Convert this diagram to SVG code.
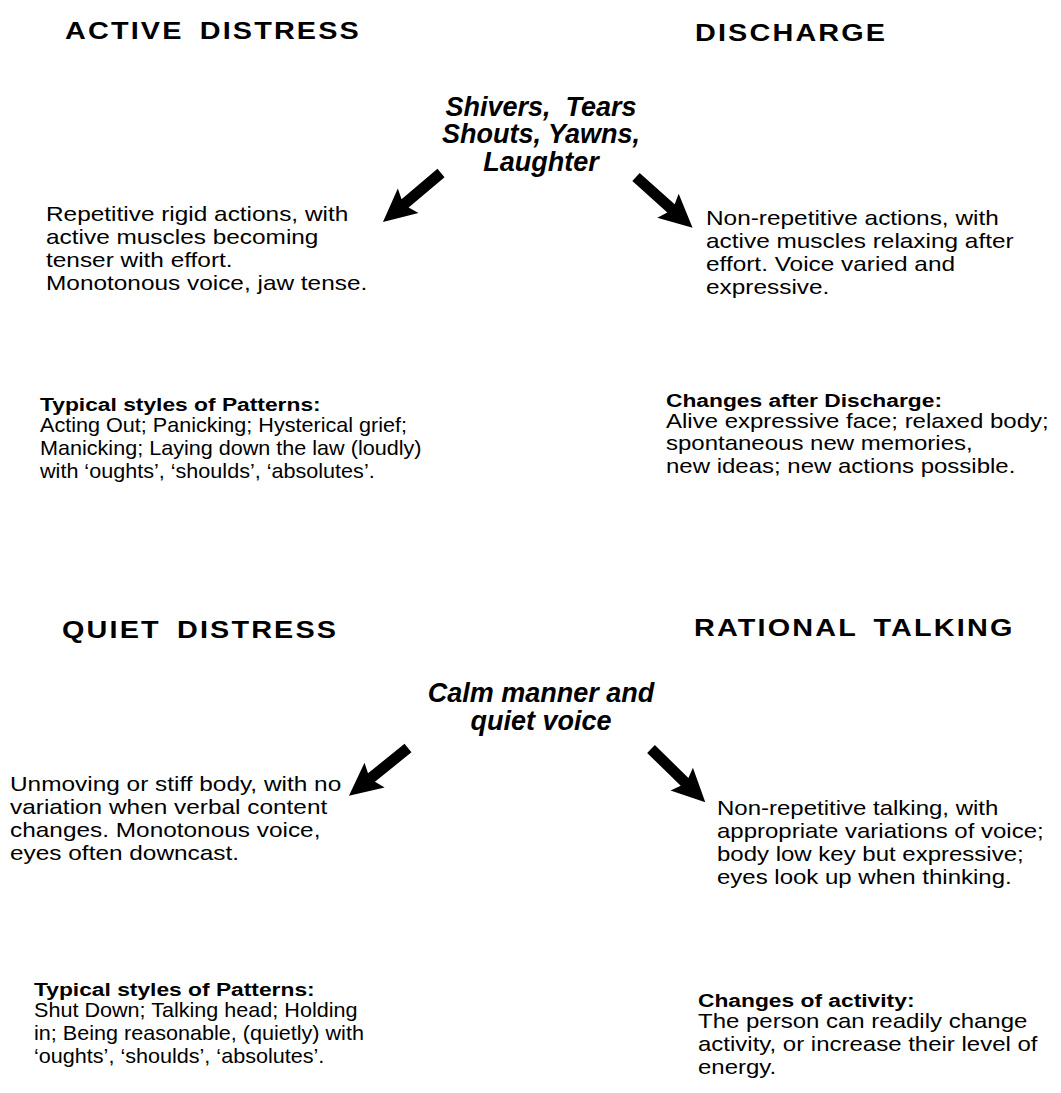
<svg xmlns="http://www.w3.org/2000/svg" xmlns:xlink="http://www.w3.org/1999/xlink" width="1061" height="1093" viewBox="0 0 1061 1093">
<style>
text{font-family:"Liberation Sans",Arial,Helvetica,sans-serif;fill:#000}
.title{font-size:24px;font-weight:bold;letter-spacing:1.8px;word-spacing:5px}
.cue{font-size:27px;font-weight:bold;font-style:italic;text-anchor:middle}
.body{font-size:20px}
.sub{font-size:19px;font-weight:bold}
</style>
<defs>
<polygon id="arrow" points="0,-5.5 47,-5.5 43,-16 76,0 43,16 47,5.5 0,5.5" fill="#000"/>
</defs>
<rect width="1061" height="1093" fill="#fff"/>

<g id="active-distress-title" transform="translate(65,0) scale(1.2,1)"><text class="title" x="0" y="39">ACTIVE DISTRESS</text></g>
<g id="discharge-title" transform="translate(695,0) scale(1.2,1)"><text class="title" x="0" y="41">DISCHARGE</text></g>

<g id="discharge-cues">
<text class="cue" x="541" y="116" xml:space="preserve">Shivers,  Tears</text>
<text class="cue" x="541" y="143">Shouts, Yawns,</text>
<text class="cue" x="541" y="171">Laughter</text>
</g>

<g id="active-distress-signs" transform="translate(46,0) scale(1.22,1)">
<text class="body" x="0" y="221">Repetitive rigid actions, with</text>
<text class="body" x="0" y="244">active muscles becoming</text>
<text class="body" x="0" y="267">tenser with effort.</text>
<text class="body" x="0" y="290">Monotonous voice, jaw tense.</text>
</g>

<g id="discharge-signs" transform="translate(706,0) scale(1.22,1)">
<text class="body" x="0" y="225">Non-repetitive actions, with</text>
<text class="body" x="0" y="248">active muscles relaxing after</text>
<text class="body" x="0" y="271">effort. Voice varied and</text>
<text class="body" x="0" y="294">expressive.</text>
</g>

<g id="active-patterns" transform="translate(40,0)">
<text class="sub" x="0" y="411" transform="scale(1.2,1)">Typical styles of Patterns:</text>
<g transform="scale(1.08,1)">
<text class="body" x="0" y="432">Acting Out; Panicking; Hysterical grief;</text>
<text class="body" x="0" y="455">Manicking; Laying down the law (loudly)</text>
<text class="body" x="0" y="478">with ‘oughts’, ‘shoulds’, ‘absolutes’.</text>
</g>
</g>

<g id="discharge-changes" transform="translate(666,0) scale(1.2,1)">
<text class="sub" x="0" y="407">Changes after Discharge:</text>
<text class="body" x="0" y="428">Alive expressive face; relaxed body;</text>
<text class="body" x="0" y="450">spontaneous new memories,</text>
<text class="body" x="0" y="473">new ideas; new actions possible.</text>
</g>

<g id="quiet-distress-title" transform="translate(62,0) scale(1.2,1)"><text class="title" x="0" y="638">QUIET DISTRESS</text></g>
<g id="rational-talking-title" transform="translate(694,0) scale(1.2,1)"><text class="title" x="0" y="636">RATIONAL TALKING</text></g>

<g id="rational-cues">
<text class="cue" x="541" y="702">Calm manner and</text>
<text class="cue" x="541" y="730">quiet voice</text>
</g>

<g id="quiet-distress-signs" transform="translate(10,0) scale(1.22,1)">
<text class="body" x="0" y="791">Unmoving or stiff body, with no</text>
<text class="body" x="0" y="814">variation when verbal content</text>
<text class="body" x="0" y="837">changes. Monotonous voice,</text>
<text class="body" x="0" y="860">eyes often downcast.</text>
</g>

<g id="rational-signs" transform="translate(717,0) scale(1.2,1)">
<text class="body" x="0" y="815">Non-repetitive talking, with</text>
<text class="body" x="0" y="838">appropriate variations of voice;</text>
<text class="body" x="0" y="861">body low key but expressive;</text>
<text class="body" x="0" y="884">eyes look up when thinking.</text>
</g>

<g id="quiet-patterns" transform="translate(34,0)">
<text class="sub" x="0" y="996" transform="scale(1.2,1)">Typical styles of Patterns:</text>
<g transform="scale(1.08,1)">
<text class="body" x="0" y="1017">Shut Down; Talking head; Holding</text>
<text class="body" x="0" y="1040">in; Being reasonable, (quietly) with</text>
<text class="body" x="0" y="1063">‘oughts’, ‘shoulds’, ‘absolutes’.</text>
</g>
</g>

<g id="activity-changes" transform="translate(698,0) scale(1.2,1)">
<text class="sub" x="0" y="1007">Changes of activity:</text>
<text class="body" x="0" y="1028">The person can readily change</text>
<text class="body" x="0" y="1051">activity, or increase their level of</text>
<text class="body" x="0" y="1074">energy.</text>
</g>

<g id="connectors">
<use xlink:href="#arrow" transform="translate(441,173) rotate(139.8)"/>
<use xlink:href="#arrow" transform="translate(636,177) rotate(41.9)"/>
<use xlink:href="#arrow" transform="translate(408,748) rotate(141)"/>
<use xlink:href="#arrow" transform="translate(651,749) rotate(44.4)"/>
</g>
</svg>
